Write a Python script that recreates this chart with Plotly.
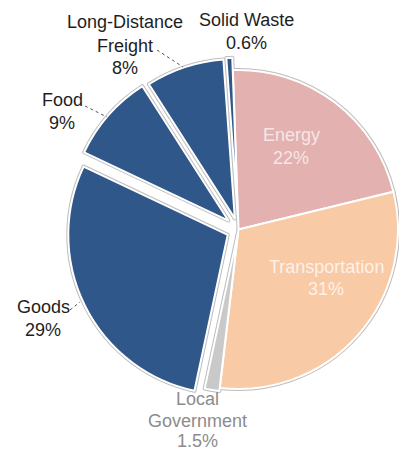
import math
import plotly.graph_objects as go

# Emissions share by sector
labels = ["Energy", "Transportation", "Local Government", "Goods", "Food",
          "Long-Distance Freight", "Solid Waste"]
values = [22, 31, 1.5, 29, 9, 8, 0.6]
pulls = [0, 0, 0.02, 0.075, 0.085, 0.072, 0.078]
colors = ["#E3B1B0", "#F8CAA6", "#C9C9C9", "#2F5789", "#2F5789", "#2F5789", "#2F5789"]

W, H = 399, 451
CX, CY, R = 238.5, 229.5, 159.5  # pie centre and radius in px
ROTATION = -2
FONT = "Liberation Sans, Arial, sans-serif"
CLEAR = "rgba(0,0,0,0)"

total = sum(values)
starts = []
acc = 0
for v in values:
    starts.append(acc)
    acc += v


def domain_for(i):
    """Domain of a pie whose slice i is exploded by its pull amount."""
    mid = math.radians((starts[i] + values[i] / 2) / total * 360 + ROTATION)
    dx = pulls[i] * R * math.sin(mid)
    dy = -pulls[i] * R * math.cos(mid)
    cx, cy = CX + dx, CY + dy
    return dict(x=[(cx - R) / W, (cx + R) / W],
                y=[1 - (cy + R) / H, 1 - (cy - R) / H])


# group slices: all un-pulled together, each pulled slice in its own pie
groups = [[i for i, p in enumerate(pulls) if p == 0]] + \
         [[i] for i, p in enumerate(pulls) if p > 0]


def pie_layer(group, line_color, line_width):
    fill = [colors[i] if i in group else CLEAR for i in range(len(values))]
    lines = [line_color if i in group else CLEAR for i in range(len(values))]
    return go.Pie(
        values=values, labels=labels,
        sort=False, direction="clockwise", rotation=ROTATION,
        domain=domain_for(group[0]),
        marker=dict(colors=fill, line=dict(color=lines, width=line_width)),
        textinfo="none", hoverinfo="skip", showlegend=False,
    )


fig = go.Figure()
# grey outer outline first, then fills with a thin white edge
for g in groups:
    fig.add_trace(pie_layer(g, "#BDBDBD", 4))
for g in groups:
    fig.add_trace(pie_layer(g, "#FFFFFF", 2))


def fmt(v):
    return f"{v:g}%"


# label lines: text split per slice, with line centres (px)
label_lines = [
    ["Energy"], ["Transportation"], ["Local", "Government"], ["Goods"], ["Food"],
    ["Long-Distance", "Freight"], ["Solid Waste"],
]
label_y = [[135, 158], [267, 289], [399, 421, 441], [307, 330], [100, 123],
           [22, 46, 68], [20, 43]]
label_x = [291, 326, 197, 43, 62, 125, 246]
label_col = ["#F6E6E6", "#FDF1E8", "#8C8C8C", "#1E1E1E", "#1E1E1E", "#1E1E1E", "#1E1E1E"]

for i in range(len(values)):
    lines = label_lines[i] + [fmt(values[i])]
    for txt, ly in zip(lines, label_y[i]):
        fig.add_annotation(
            x=label_x[i] / W, y=1 - ly / H, xref="paper", yref="paper",
            text=txt, showarrow=False, xanchor="center", yanchor="middle",
            borderpad=0,
            font=dict(family=FONT, size=18, color=label_col[i]),
        )

# dotted leader lines
leaders = [((157, 50), (183, 67)), ((85, 106), (107, 117)), ((70, 310), (80, 302))]
for (x0, y0), (x1, y1) in leaders:
    fig.add_shape(type="line", xref="paper", yref="paper",
                  x0=x0 / W, y0=1 - y0 / H, x1=x1 / W, y1=1 - y1 / H,
                  line=dict(color="#555555", width=1, dash="dot"))

fig.update_layout(
    width=W, height=H, margin=dict(l=0, r=0, t=0, b=0),
    paper_bgcolor="white", plot_bgcolor="white",
)

fig.write_html("out.html")
